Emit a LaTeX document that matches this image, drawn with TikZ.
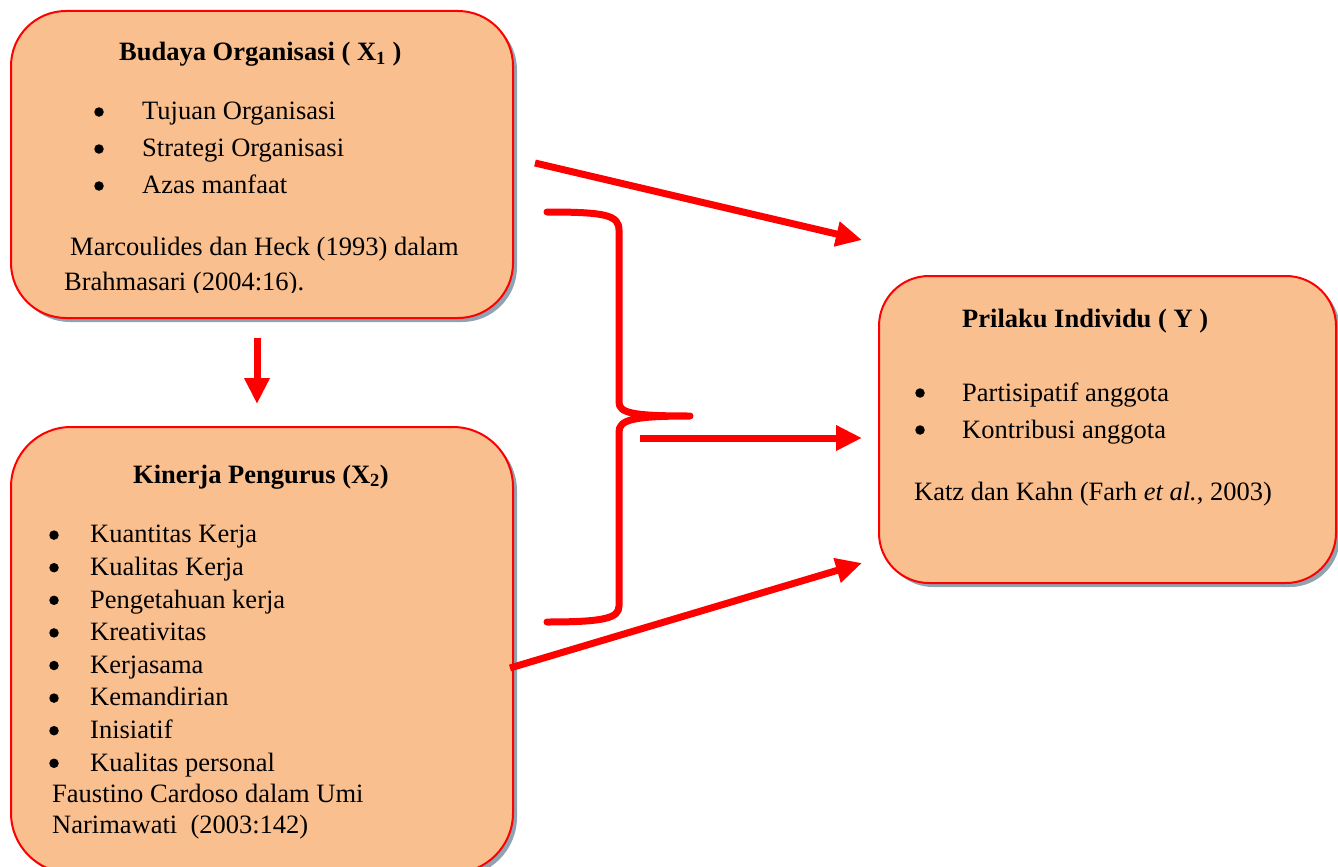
\documentclass[tikz,border=0pt]{standalone}
\usepackage{fontspec}
\setmainfont{Liberation Serif}
\usetikzlibrary{shadows,arrows.meta}
\definecolor{boxfill}{HTML}{F9BF8F}
\definecolor{boxline}{HTML}{FF0000}
\definecolor{shadec}{HTML}{8FA3B3}
\definecolor{linkred}{HTML}{FF0000}
\begin{document}
\begin{tikzpicture}[x=1pt,y=-1pt,
  box/.style={draw=boxline, line width=2pt, fill=boxfill, inner sep=0pt,
    anchor=north west,
    general shadow={fill=shadec, shadow xshift=4pt, shadow yshift=-4pt}},
  txt/.style={anchor=base west, inner sep=0pt, font=\fontsize{26.5}{32}\selectfont},
  dot/.style={circle, fill=black, inner sep=0pt, minimum size=9.5pt},
  conn/.style={draw=linkred, line width=7pt, -{Triangle[length=26pt,width=24pt]}},
  bracestyle/.style={draw=linkred, line width=7pt, line cap=round, line join=round}]
\useasboundingbox (0,0) rectangle (1338,867);
\clip (0,0) rectangle (1338,867);
% boxes
\node[box, rounded corners=55pt, minimum width=502pt, minimum height=307pt] (b1) at (10,10) {};
\node[box, rounded corners=60pt, minimum width=502pt, minimum height=446pt] (b2) at (10,426) {};
\node[box, rounded corners=50pt, minimum width=457pt, minimum height=307pt] (b3) at (878,275) {};
% box 1 text
\node[txt] (t1) at (119,61) {\textbf{Budaya Organisasi ( X\textsubscript{1} )}};
\foreach \t [count=\i] in {Tujuan Organisasi, Strategi Organisasi, Azas manfaat} {
  \node[dot] (b1d\i) at (99,75+37*\i) {};
  \node[txt] (b1i\i) at (142,82+37*\i) {\t};
}
\node[txt] (c1a) at (70,255) {Marcoulides dan Heck (1993) dalam};
\begin{scope}
  \clip (0,0) rectangle (520,292);
  \node[txt] (c1b) at (64,290) {Brahmasari (2004:16).};
\end{scope}
% box 2 text
\node[txt] (t2) at (133,483) {\textbf{Kinerja Pengurus (X\textsubscript{2})}};
\foreach \t [count=\i] in {Kuantitas Kerja, Kualitas Kerja, Pengetahuan kerja, Kreativitas, Kerjasama, Kemandirian, Inisiatif, Kualitas personal} {
  \node[dot] (b2d\i) at (54,502.5+32.6*\i) {};
  \node[txt] (b2i\i) at (90,510.3+32.6*\i) {\t};
}
\node[txt] (c2a) at (52,802) {Faustino Cardoso dalam Umi};
\node[txt] (c2b) at (52,833) {Narimawati\ \ (2003:142)};
% box 3 text
\node[txt] (t3) at (962,327) {\textbf{Prilaku Individu ( Y )}};
\node[dot] (b3d1) at (920,393) {};
\node[txt] (b3i1) at (962,401) {Partisipatif anggota};
\node[dot] (b3d2) at (920,430) {};
\node[txt] (b3i2) at (962,438) {Kontribusi anggota};
\node[txt] (c3) at (914,500) {Katz dan Kahn (Farh \textit{et al.}, 2003)};
% connector end points
\coordinate (a1s) at (535,163);
\coordinate (a1e) at (862,240);
\coordinate (a2s) at (257,338);
\coordinate (a2e) at (257,404);
\coordinate (a3s) at (640,438);
\coordinate (a3e) at (862,438);
\coordinate (a4s) at (510,668);
\coordinate (a4e) at (862,563);
\draw[conn] (a1s) -- (a1e);
\draw[conn] (a2s) -- (a2e);
\draw[conn] (a3s) -- (a3e);
\draw[conn] (a4s) -- (a4e);
% brace
\draw[bracestyle] (547,212) .. controls (605,212) and (619,215) .. (619,230)
  -- (619,402) .. controls (619,413) and (632,416) .. (690,416)
  .. controls (632,416) and (619,420) .. (619,432)
  -- (619,606) .. controls (619,618) and (605,622) .. (547,622);
\end{tikzpicture}
\end{document}
